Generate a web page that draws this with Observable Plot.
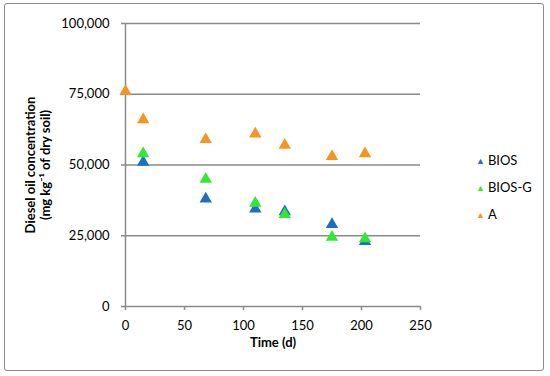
<!DOCTYPE html>
<html>
<head>
<meta charset="utf-8">
<script src="https://cdn.jsdelivr.net/npm/d3@7"></script>
<script src="https://cdn.jsdelivr.net/npm/@observablehq/plot@0.6"></script>
<style>
  body { margin: 0; background: #fff; }
  #wrap { position: relative; width: 550px; height: 376px; font-family: Lato, "Open Sans", sans-serif; }
  #border { position: absolute; left: 4px; top: 3px; width: 538px; height: 366px; border: 1.5px solid #8a8a8a; border-radius: 3px; box-sizing: content-box; }
  #legend { position: absolute; left: 476px; top: 152px; font-size: 13px; color: #000; }
  #legend div { height: 27px; line-height: 17px; white-space: nowrap; }
  #legend span.m { display: inline-block; font-size: 9px; margin-right: 3px; vertical-align: 1px; }
</style>
</head>
<body>
<div id="wrap">
  <div id="border"></div>
  <div id="chart"></div>
  <div id="legend"></div>
</div>
<script>
const days = [0, 15, 68, 110, 135, 175, 203];
const seriesNames = ["BIOS", "BIOS-G", "A"];
const seriesColors = ["#1c6fc2", "#33e833", "#f7941e"];
const biosDays = [15, 68, 110, 135, 175, 203];
const biosValues = [51000, 38000, 34500, 33500, 29000, 23000];
const biosGDays = [15, 68, 110, 135, 175, 203];
const biosGValues = [54000, 45000, 36500, 32500, 24500, 24000];
const aDays = [0, 15, 68, 110, 135, 175, 203];
const aValues = [76000, 66000, 59000, 61000, 57000, 53000, 54000];
const yTicks = [0, 25000, 50000, 75000, 100000];
const xTicks = [0, 50, 100, 150, 200, 250];

const data = [];
biosDays.forEach((d, i) => data.push({t: d, v: biosValues[i], s: "BIOS"}));
biosGDays.forEach((d, i) => data.push({t: d, v: biosGValues[i], s: "BIOS-G"}));
aDays.forEach((d, i) => data.push({t: d, v: aValues[i], s: "A"}));

const grey = "#8a8a8a";
const chart = Plot.plot({
  width: 550,
  height: 376,
  marginLeft: 125,
  marginRight: 130,
  marginTop: 23,
  marginBottom: 70,
  style: {fontFamily: "Lato, 'Open Sans', sans-serif", fontSize: "13px", color: "#000", background: "transparent"},
  x: {domain: [0, 250], ticks: xTicks},
  y: {domain: [0, 100000], ticks: yTicks},
  color: {domain: seriesNames, range: seriesColors},
  marks: [
    Plot.ruleY(yTicks.filter(d => d > 0), {stroke: grey, strokeWidth: 1.5}),
    Plot.ruleY([0], {stroke: grey, strokeWidth: 1.5}),
    Plot.ruleX([0], {stroke: grey, strokeWidth: 1.5}),
    Plot.axisY({ticks: yTicks, tickSize: 4, tickPadding: 12, tickFormat: d3.format(","), stroke: grey, strokeWidth: 1.5, label: null, fontSize: "13px"}),
    Plot.axisX({ticks: xTicks, tickSize: 4, tickPadding: 10, stroke: grey, strokeWidth: 1.5, label: null, fontSize: "13px"}),
    Plot.dot(data, {x: "t", y: "v", fill: "s", symbol: "triangle", r: 4.6, stroke: null}),
    Plot.text(["Diesel oil concentration\n(mg kg\u207B\u00B9 of dry soil)"], {frameAnchor: "left", textAnchor: "middle", lineAnchor: "middle", rotate: -90, dx: -88, fontWeight: "bold", fontSize: 13, lineHeight: 1.2, fill: "#000"}),
    Plot.text(["Time (d)"], {frameAnchor: "bottom", dy: 40, fontWeight: "bold", fontSize: 13, fill: "#000"})
  ]
});
document.getElementById("chart").appendChild(chart);

const legend = document.getElementById("legend");
seriesNames.forEach((n, i) => {
  const row = document.createElement("div");
  const m = document.createElement("span");
  m.className = "m";
  m.style.color = seriesColors[i];
  m.textContent = "\u25B2";
  row.appendChild(m);
  row.appendChild(document.createTextNode(n));
  legend.appendChild(row);
});
</script>
</body>
</html>
